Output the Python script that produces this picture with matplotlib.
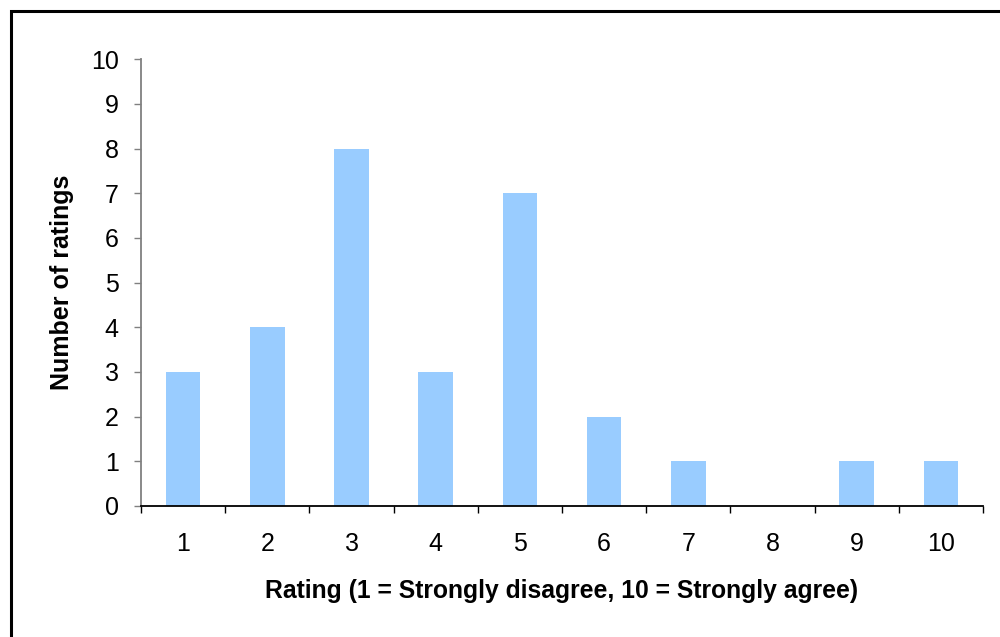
import numpy as np
import matplotlib.pyplot as plt
from matplotlib.patches import Rectangle

ratings = [1, 2, 3, 4, 5, 6, 7, 8, 9, 10]
counts = [3, 4, 8, 3, 7, 2, 1, 0, 1, 1]
y_ticks = list(range(0, 11))

plt.rcParams['font.family'] = ['Liberation Sans', 'DejaVu Sans']

fig = plt.figure(figsize=(10, 6.37), dpi=100)
ax = fig.add_axes([0.141, 0.2057, 0.842, 0.7012])

x = np.array(ratings)
ax.bar(x, counts, width=0.41, color='#99CCFF', edgecolor='none')

ax.set_xlim(0.5, 10.5)
ax.set_ylim(0, 10)
ax.set_yticks(y_ticks)
ax.set_xticks(x)
ax.set_xticks(np.arange(0.5, 11, 1), minor=True)

ax.tick_params(axis='x', which='major', length=0, pad=19, labelsize=18)
ax.tick_params(axis='x', which='minor', length=5, width=1, color='black', direction='out')
ax.tick_params(axis='y', length=5, width=1, color='#808080', pad=11, labelsize=18)

for side in ['top', 'right']:
    ax.spines[side].set_visible(False)
ax.spines['left'].set_color('#808080')
ax.spines['left'].set_linewidth(1.3)
ax.spines['bottom'].set_color('black')
ax.spines['bottom'].set_linewidth(1.3)

ax.set_xlabel('Rating (1 = Strongly disagree, 10 = Strongly agree)',
              fontsize=17.8, fontweight='bold', labelpad=16)
ax.set_ylabel('Number of ratings', fontsize=18, fontweight='bold', labelpad=12)

# outer chart border (only top/left visible in the crop)
fig.patches.append(Rectangle((0.011, -0.1), 1.1, 1.083,
                             transform=fig.transFigure, fill=False,
                             edgecolor='black', linewidth=2.2))

fig.savefig('out.png', dpi=100)
